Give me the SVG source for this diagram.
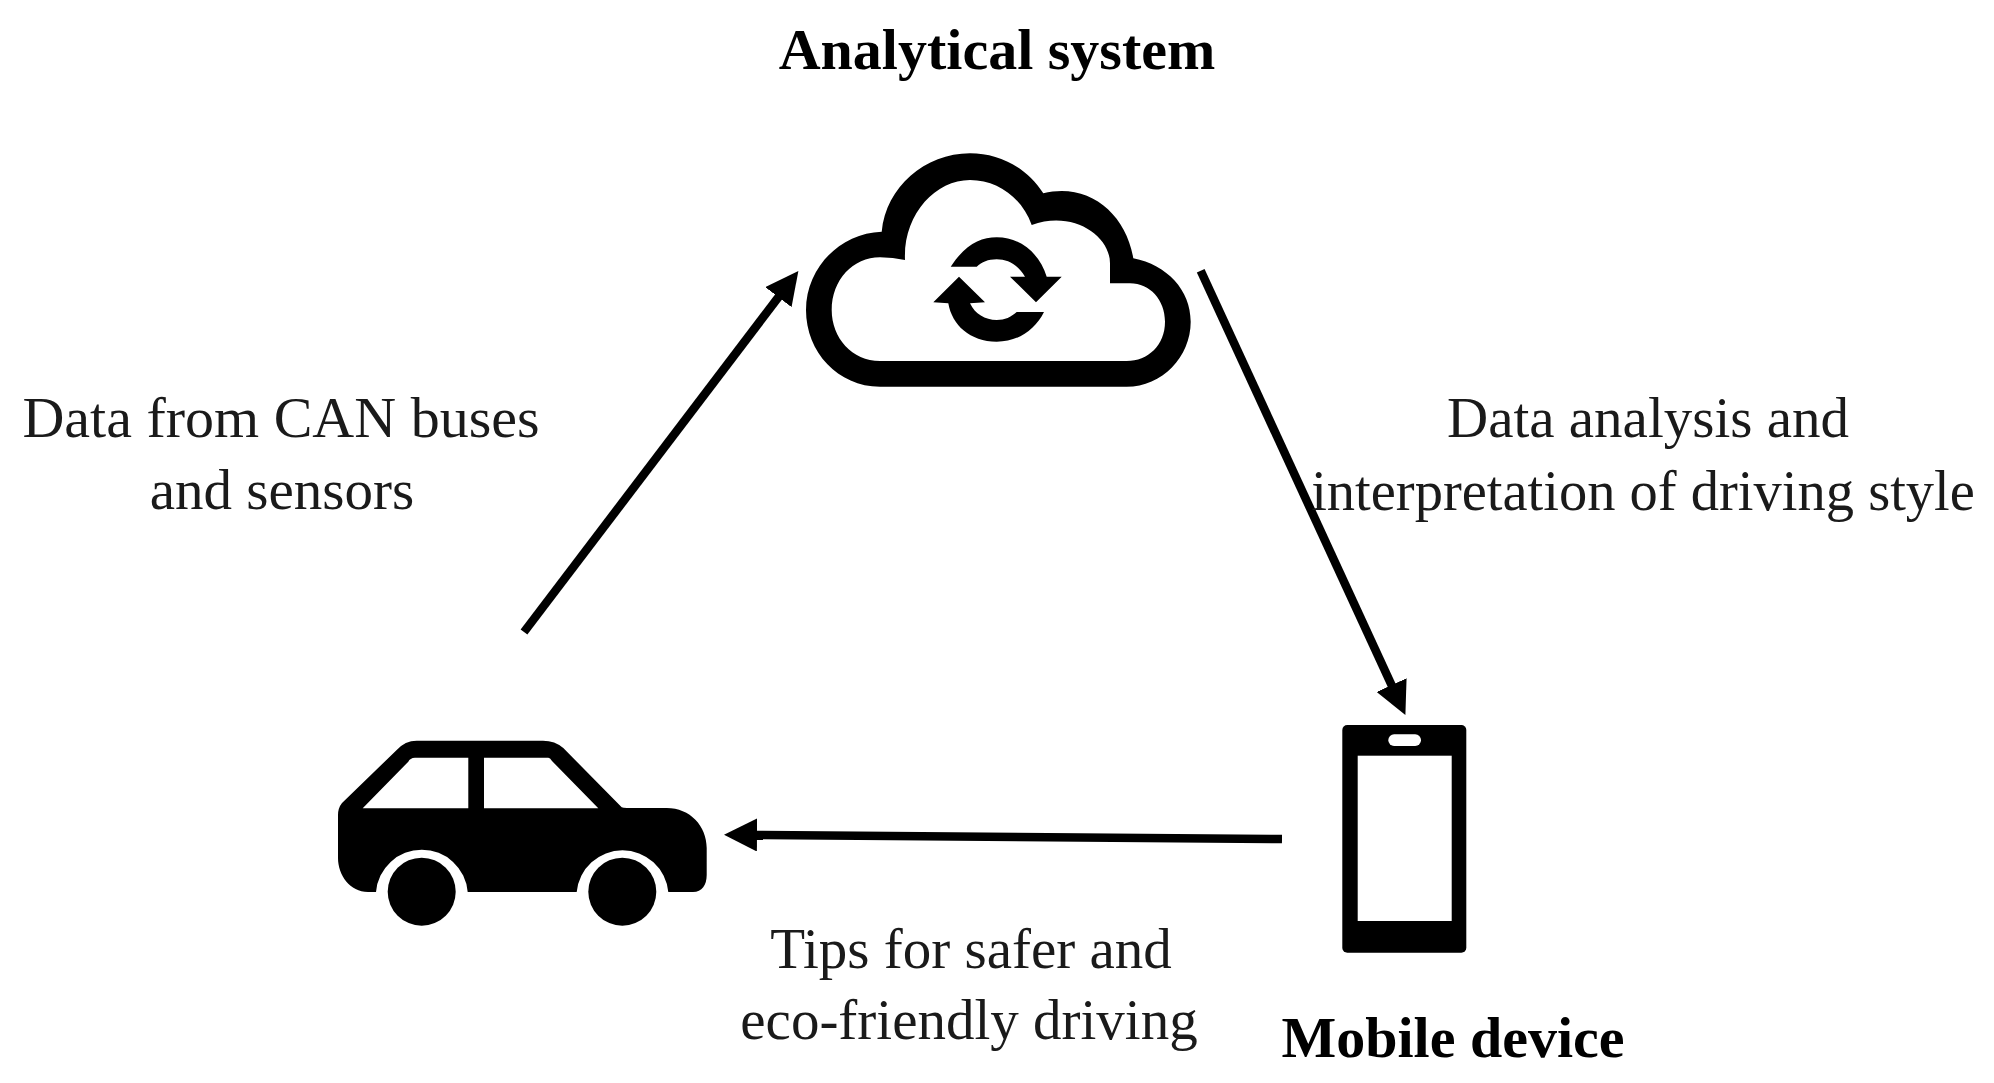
<svg xmlns="http://www.w3.org/2000/svg" width="1994" height="1083" viewBox="0 0 1994 1083">
<style>
.lbl{font-family:"Liberation Serif","Times New Roman",serif;font-size:57px;fill:#1a1a1a;text-anchor:middle}
.ttl{font-family:"Liberation Serif","Times New Roman",serif;font-size:58px;font-weight:bold;fill:#000;text-anchor:middle}
.conn{stroke:#000;stroke-width:8.5;fill:none;marker-end:url(#head)}
</style>
<defs>
<marker id="head" markerUnits="userSpaceOnUse" markerWidth="33" markerHeight="33" refX="1" refY="16.5" orient="auto" viewBox="0 0 33 33"><polygon points="0,0 33,16.5 0,33" fill="#000"/></marker>
</defs>
<rect width="1994" height="1083" fill="#fff"/>
<g id="connectors">
<line class="conn" x1="524" y1="632" x2="779" y2="296.4"/>
<line class="conn" x1="1200.7" y1="270.7" x2="1392" y2="686"/>
<line class="conn" x1="1282" y1="839" x2="756" y2="835"/>
</g>
<g id="analytical-system">
<path fill="#000" fill-rule="evenodd" d="M881.7 231.7C886 187 925 153.3 970 153.3C1000 153.3 1027 168 1043.3 193.3C1088 182 1126 213 1133.3 258.3C1167 265 1190.7 290 1190.7 321.7C1190.7 357 1162 386.7 1126.7 386.7H880C838 386.7 806 352 806 310C806 268 840 233 881.7 231.7ZM905 260C903 215 935 180 970 180C998 180 1022 198 1031.7 225C1072 210 1110 235 1110 263.3V283.3H1130C1150 283.3 1165 300 1165 321.7C1165 345 1148 361 1126.7 361H880C852 361 831.7 338 831.7 310C831.7 280 853 257.3 880 257.3Q893 257.3 905 260Z"/>
<path fill="#000" d="M950.7 266.7C965 245 980 237.3 996.7 237.3C1022 237.3 1040 255 1046.7 276.7H1061.7L1036 302.3L1010 276.7H1025C1018 265 1008 259.3 996.7 259.3C988 259.3 982 262 976.7 266.7Z"/>
<path fill="#000" d="M1044 312C1035 330 1018 341.7 996.7 341.7C970 341.7 952 325 948.3 303.3L933.3 302.3L959 276.7L985 302.3L970 303.3C975 314 985 320 996.7 320C1005 320 1011 317 1016.7 312Z"/>
<text class="ttl" x="997" y="69">Analytical system</text>
</g>
<g id="car">
<path fill="#000" fill-rule="evenodd" d="M342 803L396.7 750Q405 740.7 416.7 740.7H543Q555 740.7 563.3 748L621.7 807.3Q623 808 627 808H666.7C690 808 706.7 826 706.7 848V875C706.7 885 702 892 693 892H668.3A46 46 0 0 0 576.7 892H467.7A46 46 0 0 0 376 892H368C350 892 338 875 338 858V815Q338 808 342 803ZM362.7 808.3H468.3V757.7H415Q410 758 408.3 761.7ZM484 808.3H598.3L552 761Q550 757.7 548.3 757.7H484Z"/>
<circle cx="421.7" cy="891.7" r="34" fill="#000"/>
<circle cx="622.3" cy="891.7" r="34" fill="#000"/>
</g>
<g id="mobile-device">
<rect x="1342.3" y="725" width="124" height="227.7" rx="5" fill="#000"/>
<rect x="1357.7" y="755.7" width="94" height="165.3" fill="#fff"/>
<rect x="1388.3" y="734.3" width="32.7" height="11.7" rx="5.8" fill="#fff"/>
<text class="ttl" x="1453" y="1057">Mobile device</text>
</g>
<g id="labels">
<text class="lbl" x="281" y="437" style="font-size:58px">Data from CAN buses</text>
<text class="lbl" x="282" y="509">and sensors</text>
<text class="lbl" x="1648" y="437">Data analysis and</text>
<text class="lbl" x="1643" y="510" style="font-size:56.5px">interpretation of driving style</text>
<text class="lbl" x="971" y="968">Tips for safer and</text>
<text class="lbl" x="969" y="1039">eco-friendly driving</text>
</g>
</svg>
